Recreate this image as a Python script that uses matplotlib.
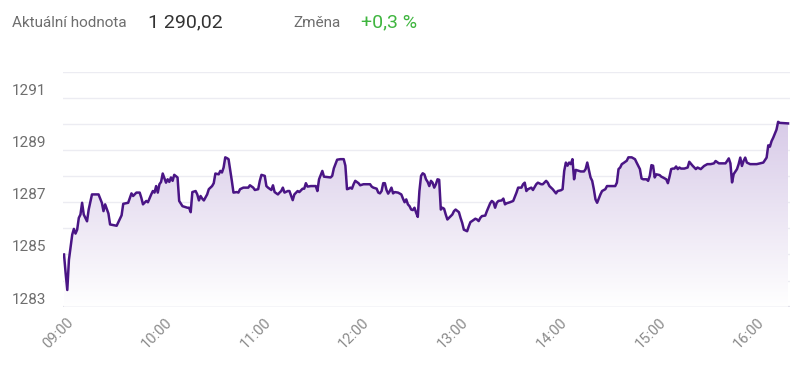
import matplotlib
matplotlib.use("Agg")

import matplotlib.pyplot as plt
import matplotlib.transforms as mtransforms
import numpy as np
from matplotlib.colors import LinearSegmentedColormap

# intraday index, minutes after 09:00 and value
minutes = [
    0, 1, 2, 3, 5, 6, 7, 8, 9, 10, 11, 12, 14, 15, 17, 21, 23, 24, 25, 27,
    28, 32, 34, 35, 36, 39, 41, 42, 44, 46, 47, 48, 50, 51, 53, 54, 55, 56, 57, 58,
    59, 60, 62, 63, 64, 65, 66, 67, 69, 70, 72, 75, 76, 77, 78, 80, 81, 82, 83, 84,
    85, 87, 88, 90, 91, 92, 94, 95, 96, 97, 98, 99, 100, 102, 103, 105, 106, 107, 109, 110,
    112, 113, 115, 116, 118, 119, 120, 122, 123, 124, 126, 127, 128, 130, 131, 132, 133, 134, 136, 137,
    138, 139, 140, 142, 143, 145, 146, 147, 148, 150, 151, 153, 154, 155, 157, 158, 162, 163, 164, 166,
    168, 170, 171, 172, 173, 174, 175, 176, 177, 179, 180, 182, 186, 187, 188, 190, 191, 192, 193, 194,
    195, 196, 197, 198, 199, 200, 201, 203, 205, 206, 207, 208, 209, 210, 211, 212, 213, 214, 215, 216,
    217, 218, 219, 220, 221, 222, 223, 224, 225, 226, 227, 228, 229, 230, 231, 232, 233, 235, 236, 237,
    238, 240, 241, 242, 243, 245, 246, 247, 248, 250, 251, 252, 253, 254, 256, 257, 259, 260, 261, 262,
    263, 264, 266, 267, 268, 269, 271, 273, 275, 276, 278, 279, 280, 281, 282, 284, 285, 287, 288, 290,
    291, 293, 294, 295, 297, 299, 300, 302, 303, 304, 305, 306, 307, 308, 309, 310, 311, 313, 314, 316,
    317, 318, 320, 321, 322, 323, 324, 326, 327, 329, 330, 333, 335, 336, 337, 338, 339, 340, 342, 343,
    345, 347, 348, 350, 351, 352, 354, 355, 356, 357, 358, 359, 360, 362, 363, 364, 366, 367, 368, 369,
    370, 371, 372, 373, 374, 375, 377, 379, 380, 382, 384, 385, 387, 389, 391, 393, 395, 396, 398, 400,
    402, 403, 404, 405, 406, 407, 409, 410, 411, 412, 413, 414, 415, 417, 421, 423, 425, 427, 428, 429,
    430, 431, 433, 434, 435, 440,
]
values = [
    1285.00, 1284.28, 1283.64, 1284.80, 1285.76, 1285.98, 1285.80, 1285.95, 1286.40, 1286.53,
    1286.98, 1286.53, 1286.27, 1286.72, 1287.30, 1287.30, 1286.98, 1286.66, 1286.92, 1286.57,
    1286.15, 1286.10, 1286.37, 1286.50, 1286.94, 1286.98, 1287.34, 1287.24, 1287.37, 1287.37,
    1287.17, 1286.92, 1287.05, 1287.00, 1287.30, 1287.43, 1287.37, 1287.62, 1287.37, 1287.69,
    1287.78, 1288.10, 1287.75, 1287.88, 1287.78, 1287.95, 1287.82, 1288.05, 1287.95, 1287.05,
    1286.85, 1286.79, 1286.79, 1286.62, 1287.39, 1287.43, 1287.30, 1287.07, 1287.24, 1287.14,
    1287.07, 1287.30, 1287.50, 1287.62, 1287.73, 1288.10, 1288.07, 1288.20, 1288.14, 1288.33,
    1288.72, 1288.69, 1288.65, 1287.82, 1287.37, 1287.39, 1287.37, 1287.50, 1287.56, 1287.56,
    1287.56, 1287.65, 1287.56, 1287.47, 1287.50, 1287.82, 1288.05, 1288.01, 1287.62, 1287.56,
    1287.47, 1287.65, 1287.39, 1287.30, 1287.37, 1287.43, 1287.56, 1287.37, 1287.43, 1287.43,
    1287.26, 1287.08, 1287.30, 1287.43, 1287.39, 1287.52, 1287.52, 1287.73, 1287.60, 1287.62,
    1287.62, 1287.62, 1287.43, 1287.88, 1288.20, 1287.98, 1287.95, 1288.01, 1288.30, 1288.63,
    1288.65, 1288.65, 1288.40, 1287.50, 1287.52, 1287.56, 1287.52, 1287.69, 1287.82, 1287.73,
    1287.65, 1287.69, 1287.69, 1287.60, 1287.56, 1287.52, 1287.37, 1287.34, 1287.43, 1287.73,
    1287.73, 1287.47, 1287.33, 1287.43, 1287.56, 1287.34, 1287.39, 1287.37, 1287.30, 1287.14,
    1287.00, 1287.11, 1286.92, 1286.85, 1286.72, 1286.70, 1286.79, 1286.60, 1286.44, 1287.43,
    1288.01, 1288.11, 1288.07, 1287.88, 1287.78, 1287.62, 1287.82, 1287.75, 1287.56, 1287.69,
    1287.88, 1287.86, 1286.72, 1286.79, 1286.75, 1286.53, 1286.34, 1286.47, 1286.53, 1286.66,
    1286.72, 1286.62, 1286.40, 1286.21, 1285.95, 1285.89, 1286.08, 1286.24, 1286.28, 1286.37,
    1286.34, 1286.28, 1286.40, 1286.47, 1286.49, 1286.66, 1286.96, 1287.05, 1287.00, 1286.79,
    1286.98, 1287.05, 1287.07, 1287.14, 1286.92, 1286.96, 1287.00, 1287.05, 1287.37, 1287.56,
    1287.56, 1287.69, 1287.75, 1287.43, 1287.50, 1287.56, 1287.47, 1287.69, 1287.75, 1287.69,
    1287.69, 1287.82, 1287.75, 1287.62, 1287.50, 1287.34, 1287.43, 1287.46, 1287.50, 1288.20,
    1288.52, 1288.40, 1288.52, 1288.46, 1288.65, 1287.88, 1288.24, 1288.20, 1288.18, 1288.18,
    1288.27, 1288.52, 1287.95, 1287.82, 1287.50, 1287.11, 1286.98, 1287.30, 1287.43, 1287.50,
    1287.62, 1287.62, 1287.62, 1287.75, 1288.27, 1288.33, 1288.46, 1288.50, 1288.59, 1288.72,
    1288.72, 1288.65, 1288.52, 1288.27, 1287.91, 1287.88, 1287.88, 1287.82, 1288.01, 1288.42,
    1288.40, 1287.95, 1288.07, 1288.04, 1287.98, 1287.95, 1287.88, 1287.73, 1287.98, 1288.27,
    1288.29, 1288.29, 1288.37, 1288.27, 1288.33, 1288.29, 1288.29, 1288.33, 1288.55, 1288.40,
    1288.27, 1288.33, 1288.27, 1288.39, 1288.46, 1288.46, 1288.49, 1288.58, 1288.49, 1288.49,
    1288.49, 1288.58, 1288.68, 1288.49, 1287.76, 1288.08, 1288.27, 1288.46, 1288.71, 1288.39,
    1288.58, 1288.71, 1288.52, 1288.46, 1288.46, 1288.49, 1288.52, 1288.71, 1289.18, 1289.13,
    1289.34, 1289.47, 1289.78, 1290.08, 1290.04, 1290.02,
]

hour_ticks = [0, 60, 120, 180, 240, 300, 360, 420]
hour_labels = ["09:00", "10:00", "11:00", "12:00", "13:00", "14:00", "15:00", "16:00"]
y_ticks = [1283, 1285, 1287, 1289, 1291]

LINE_COLOR = "#4a1585"
GRID_COLOR = "#ececf2"
LABEL_COLOR = "#6e6e6e"

plt.rcParams["font.family"] = ["Roboto", "DejaVu Sans"]

W, H = 800, 368
fig = plt.figure(figsize=(W / 100, H / 100), dpi=100)
ax = fig.add_axes([63 / W, 1 - 306.7 / H, (790 - 63) / W, (306.7 - 71.7) / H])

x = np.array(minutes)
y = np.array(values)

px_per_min = 724 / 440
ax.set_xlim(-1 / px_per_min, 440 + 2 / px_per_min)
ax.set_ylim(1283, 1292)

# horizontal grid every 1 point
for g in range(1283, 1293):
    ax.axhline(g, color="#e2e2ea" if g == 1283 else GRID_COLOR,
               lw=1.6 if g == 1283 else 1.0, zorder=0)

# gradient area under the line
area = ax.fill_between(x, y, 1283, color="none", lw=0)
cmap = LinearSegmentedColormap.from_list("area", ["#ffffff", "#d8cbe8"])
grad = np.linspace(0, 1, 256).reshape(-1, 1)
img = ax.imshow(grad, cmap=cmap, aspect="auto", origin="lower",
                extent=[x.min(), x.max(), 1283, y.max()], zorder=1)
img.set_clip_path(area.get_paths()[0], transform=ax.transData)

ax.plot(x, y, color=LINE_COLOR, lw=1.8, zorder=3, solid_joinstyle="round")

for s in ax.spines.values():
    s.set_visible(False)

ax.set_xticks(hour_ticks)
ax.set_xticklabels(hour_labels, rotation=45, ha="right", va="center",
                   rotation_mode="anchor", color="#8a8a8a", fontsize=10.5)
ax.tick_params(axis="x", length=0, pad=10)
xshift = mtransforms.ScaledTranslation(7 / 100, 0, fig.dpi_scale_trans)
for lab in ax.get_xticklabels():
    lab.set_transform(lab.get_transform() + xshift)

ax.set_yticks(y_ticks)
ax.set_yticklabels([str(v) for v in y_ticks], color=LABEL_COLOR, fontsize=11)
ax.tick_params(axis="y", length=0, pad=(63 - 12) * 0.72)
shift = mtransforms.ScaledTranslation(0, 3 / 100, fig.dpi_scale_trans)
for lab in ax.get_yticklabels():
    lab.set_horizontalalignment("left")
    lab.set_verticalalignment("baseline")
    lab.set_transform(lab.get_transform() + shift)

# header
fig.text(12 / W, 1 - 23 / H, "Aktuální hodnota", color=LABEL_COLOR, fontsize=11, va="center")
fig.text(148 / W, 1 - 22 / H, "1 290,02", color="#333333", fontsize=14, va="center")
fig.text(293 / W, 1 - 23 / H, "Změna", color=LABEL_COLOR, fontsize=11, va="center")
fig.text(361 / W, 1 - 22 / H, "+0,3 %", color="#3fb53f", fontsize=14, va="center")

fig.savefig("out.png", dpi=100, facecolor="white")
